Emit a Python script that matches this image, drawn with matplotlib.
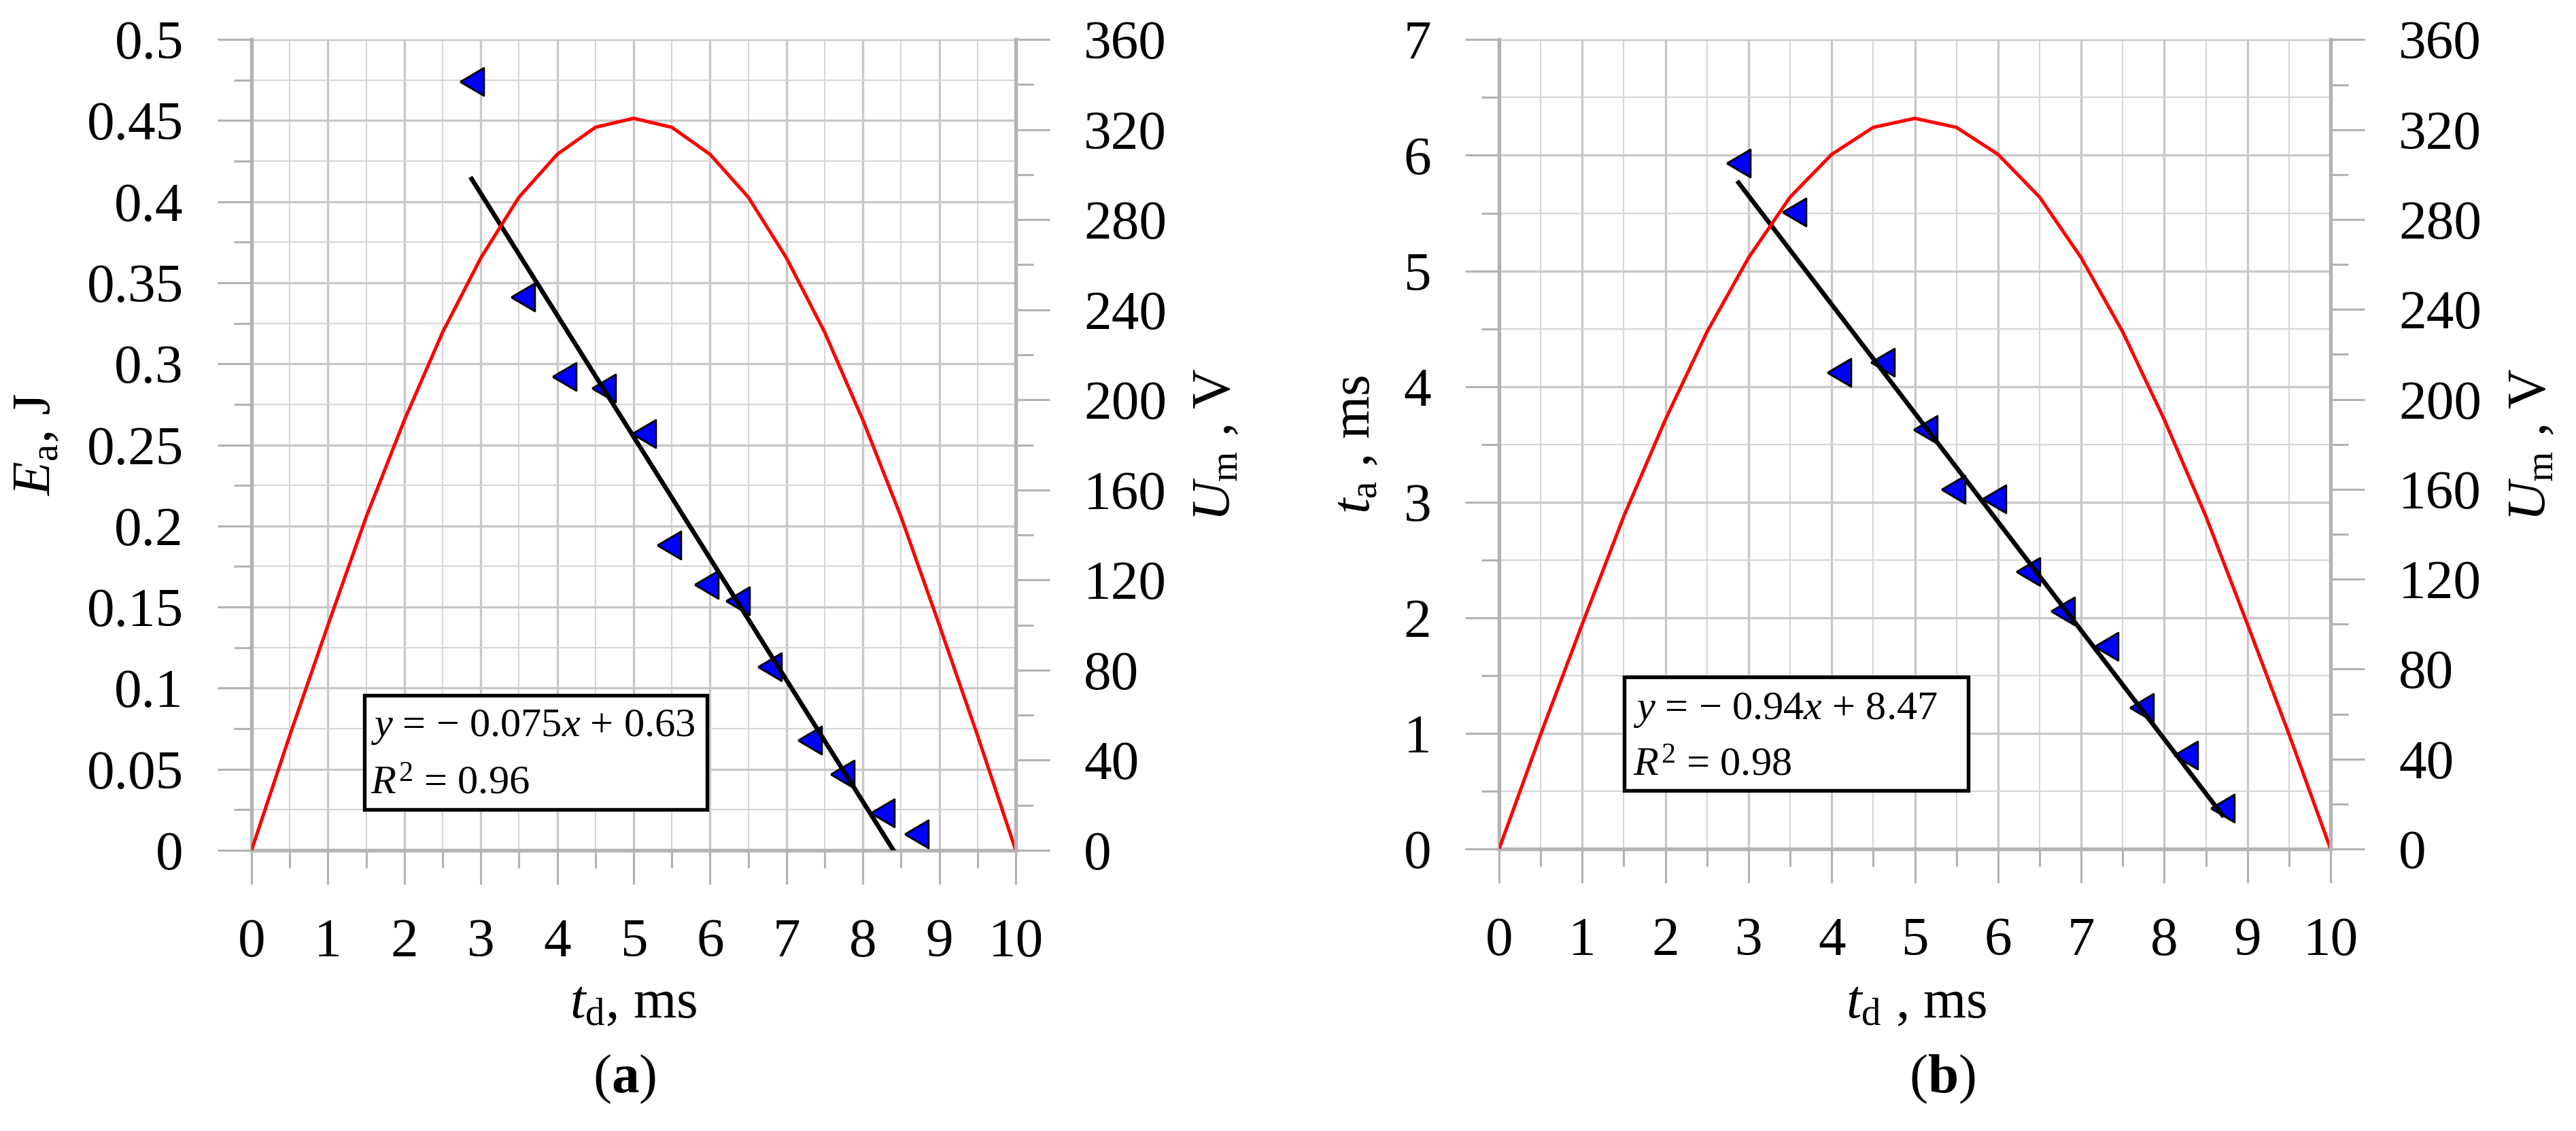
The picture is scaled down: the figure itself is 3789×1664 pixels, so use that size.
import matplotlib
matplotlib.use("Agg")
import matplotlib.pyplot as plt
from matplotlib.ticker import MultipleLocator, FuncFormatter
from matplotlib.patches import Rectangle

plt.rcParams["font.family"] = "Liberation Serif"
plt.rcParams["mathtext.fontset"] = "custom"
plt.rcParams["mathtext.rm"] = "Liberation Serif"
plt.rcParams["mathtext.it"] = "Liberation Serif:italic"
plt.rcParams["mathtext.bf"] = "Liberation Serif:bold"

# Measured points (same delay times in both panels)
td_points = [2.88, 3.55, 4.09, 4.61, 5.13, 5.46, 5.95, 6.36, 6.78, 7.30, 7.73, 8.26, 8.70]
Ea_points = [0.474, 0.341, 0.292, 0.285, 0.257, 0.188, 0.164, 0.154, 0.113, 0.068, 0.047, 0.023, 0.010]
ta_points = [5.93, 5.51, 4.12, 4.21, 3.63, 3.11, 3.03, 2.40, 2.06, 1.75, 1.22, 0.81, 0.35]

# Supply voltage half-wave (read every 0.5 ms)
t_curve = [0, 0.5, 1, 1.5, 2, 2.5, 3, 3.5, 4, 4.5, 5, 5.5, 6, 6.5, 7, 7.5, 8, 8.5, 9, 9.5, 10]
Um_curve = [0, 51, 100, 148, 191, 230, 263, 290, 309, 321, 325, 321, 309, 290, 263, 230, 191, 148, 100, 51, 0]

# Linear trendlines (slope, intercept, R^2)
fit_a = (-0.075, 0.63, 0.96)
fit_b = (-0.94, 8.47, 0.98)

GRAY = "#b3b3b3"
TRI = [(-0.85, 0), (0.85, 1), (0.85, -1), (-0.85, 0)]
FS = 19.5


def fmt(v, pos):
    return f"{round(v, 3):g}"


def style(ax, ax2, ymax, ymaj, ymin):
    ax.set_xlim(0, 10)
    ax.set_ylim(0, ymax)
    ax.xaxis.set_major_locator(MultipleLocator(1))
    ax.xaxis.set_minor_locator(MultipleLocator(0.5))
    ax.yaxis.set_major_locator(MultipleLocator(ymaj))
    ax.yaxis.set_minor_locator(MultipleLocator(ymin))
    ax.yaxis.set_major_formatter(FuncFormatter(fmt))
    ax.grid(which="major", color="#c8c8c8", lw=0.8)
    ax.grid(which="minor", color="#d6d6d6", lw=0.5)
    ax.set_axisbelow(True)
    for s in ["top", "right"]:
        ax.spines[s].set_visible(False)
    for s in ["left", "bottom"]:
        ax.spines[s].set_color(GRAY)
        ax.spines[s].set_linewidth(1.3)
    ax.tick_params(which="major", length=12, width=0.75, color=GRAY, labelsize=FS, pad=12)
    ax.tick_params(which="minor", length=6.2, width=0.75, color=GRAY)

    ax2.set_ylim(0, 360)
    ax2.yaxis.set_major_locator(MultipleLocator(40))
    ax2.yaxis.set_minor_locator(MultipleLocator(20))
    for s in ["left", "top", "bottom"]:
        ax2.spines[s].set_visible(False)
    ax2.spines["right"].set_color(GRAY)
    ax2.spines["right"].set_linewidth(1.3)
    ax2.tick_params(which="major", length=12, width=0.75, color=GRAY, labelsize=FS, pad=12)
    ax2.tick_params(which="minor", length=6.2, width=0.75, color=GRAY)


def panel(ax, yvals, fit, ymax, ymaj, ymin, box, txt_xy):
    ax2 = ax.twinx()
    style(ax, ax2, ymax, ymaj, ymin)
    ax.plot(td_points, yvals, ls="none", marker=TRI, ms=9.8,
            mfc="#0000ff", mec="black", mew=0.7, zorder=3)
    xs = [td_points[0], td_points[-1]]
    ax.plot(xs, [fit[0] * x + fit[1] for x in xs], color="black", lw=1.6, zorder=4)
    ax2.plot(t_curve, Um_curve, color="#ff0000", lw=1.2)

    bx, by, bw, bh = box
    ax.add_patch(Rectangle((bx, by), bw, bh, transform=ax.transAxes,
                           facecolor="white", edgecolor="black", lw=1.3, zorder=5))
    tx, ty1, ty2 = txt_xy
    ax.text(tx, ty1, rf"$y$ = − {abs(fit[0]):g}$x$ + {fit[1]:g}", transform=ax.transAxes,
            fontsize=14.5, va="baseline", zorder=6)
    ax.text(tx, ty2, rf"$R^2$ = {fit[2]:g}", transform=ax.transAxes,
            fontsize=14.5, va="baseline", zorder=6)
    return ax2


fig = plt.figure(figsize=(3789 / 300, 1664 / 300), dpi=300)
ax_a = fig.add_axes([0.09765, 0.2482, 0.29665, 0.7169])
ax_b = fig.add_axes([0.58195, 0.2494, 0.32278, 0.7155])

panel(ax_a, Ea_points, fit_a, 0.5, 0.05, 0.025,
      (0.1477, 0.0503, 0.4483, 0.1408), (0.1557, 0.1408, 0.0696))
panel(ax_b, ta_points, fit_b, 7, 1, 0.5,
      (0.1504, 0.0722, 0.4138, 0.1403), (0.161, 0.1604, 0.0907))

# Axis titles
yc = 0.607
fig.text(0.0145, yc, r"$E_{\mathrm{a}}$, J", rotation=90, ha="center", va="center", fontsize=FS)
fig.text(0.4724, yc, r"$U_{\mathrm{m}}$ , V", rotation=90, ha="center", va="center", fontsize=FS)
fig.text(0.5265, yc, r"$t_{\mathrm{a}}$ , ms", rotation=90, ha="center", va="center", fontsize=FS)
fig.text(0.9830, yc, r"$U_{\mathrm{m}}$ , V", rotation=90, ha="center", va="center", fontsize=FS)

fig.text(0.246, 0.112, r"$t_{\mathrm{d}}$, ms", ha="center", va="center", fontsize=FS)
fig.text(0.7440, 0.112, r"$t_{\mathrm{d}}$ , ms", ha="center", va="center", fontsize=FS)
fig.text(0.2425, 0.046, r"($\mathbf{a}$)", ha="center", va="center", fontsize=FS)
fig.text(0.7540, 0.046, r"($\mathbf{b}$)", ha="center", va="center", fontsize=FS)

fig.savefig("out.png", dpi=300, facecolor="white")
plt.close(fig)
